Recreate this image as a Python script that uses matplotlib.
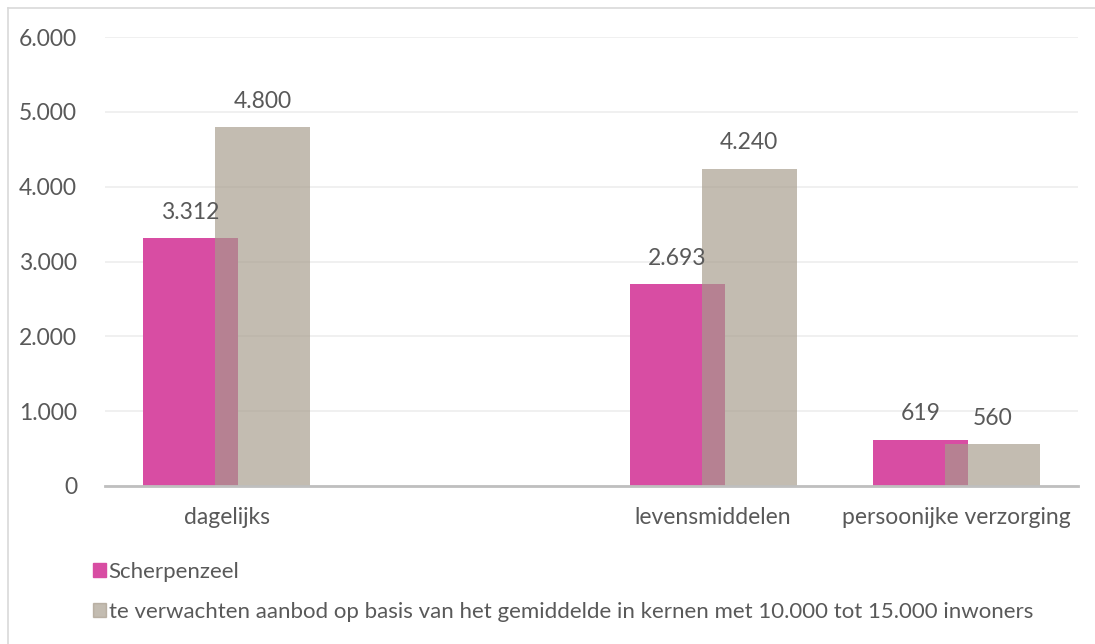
import matplotlib
matplotlib.use("Agg")
import matplotlib.pyplot as plt
from matplotlib.lines import Line2D
import numpy as np

categories = ["dagelijks", "", "levensmiddelen", "persoonijke verzorging"]
scherpenzeel = [3312, None, 2693, 619]
verwacht = [4800, None, 4240, 560]
labels_s = ["3.312", "", "2.693", "619"]
labels_v = ["4.800", "", "4.240", "560"]
yticks = [0, 1000, 2000, 3000, 4000, 5000, 6000]
ytick_labels = ["0", "1.000", "2.000", "3.000", "4.000", "5.000", "6.000"]
series_names = ["Scherpenzeel",
                "te verwachten aanbod op basis van het gemiddelde in kernen met 10.000 tot 15.000 inwoners"]

plt.rcParams['font.family'] = ['Lato', 'DejaVu Sans']
TXT = '#595959'
PINK = '#D84DA3'
GREY = '#A69B8B'
GALPHA = 0.67
FS = 16.5

fig = plt.figure(figsize=(10.95, 6.44), dpi=100)
ax = fig.add_axes([105/1095, 1 - 486/644, (1078-105)/1095, (486-37)/644])

x = np.arange(len(categories))
w = 0.39
off = 0.148
for i in range(len(categories)):
    if scherpenzeel[i] is None:
        continue
    ax.bar(x[i] - off, scherpenzeel[i], w, color=PINK, zorder=2)
    ax.bar(x[i] + off, verwacht[i], w, color=GREY, alpha=GALPHA, zorder=3, linewidth=0)
    ax.annotate(labels_s[i], (x[i] - off, scherpenzeel[i]), xytext=(0, 11),
                textcoords='offset points', ha='center', va='bottom', fontsize=FS, color=TXT, zorder=5)
    ax.annotate(labels_v[i], (x[i] + off, verwacht[i]), xytext=(0, 11),
                textcoords='offset points', ha='center', va='bottom', fontsize=FS, color=TXT, zorder=5)

ax.set_xlim(-0.5, len(categories) - 0.5)
ax.set_ylim(0, 6000)
ax.set_yticks(yticks)
ax.set_yticklabels(ytick_labels)
ax.set_xticks(x)
ax.set_xticklabels(categories)
ax.tick_params(axis='both', length=0, labelsize=FS, labelcolor=TXT)
ax.tick_params(axis='y', pad=20)
ax.tick_params(axis='x', pad=15)
ax.grid(axis='y', color='#EDEDED', linewidth=1.2, zorder=0)
ax.set_axisbelow(True)
for s in ['top', 'right', 'left']:
    ax.spines[s].set_visible(False)
ax.spines['bottom'].set_color('#BFBFBF')
ax.spines['bottom'].set_linewidth(2)
ax.spines['bottom'].set_zorder(4)

# legend
handles = [plt.Rectangle((0, 0), 1, 1, color=PINK),
           plt.Rectangle((0, 0), 1, 1, color=GREY, alpha=GALPHA)]
fig.legend(handles, series_names, loc='upper left', bbox_to_anchor=(93/1095, 1 - 562/644),
           frameon=False, fontsize=16, labelcolor=TXT, handlelength=0.6, handleheight=0.6,
           handletextpad=0.1, labelspacing=0.9, borderaxespad=0, borderpad=0)

# figure border
fig.add_artist(Line2D([8/1095, 1], [1 - 8/644, 1 - 8/644], color='#D9D9D9', linewidth=1.2,
                      transform=fig.transFigure))
fig.add_artist(Line2D([8/1095, 8/1095], [0, 1 - 8/644], color='#D9D9D9', linewidth=1.2,
                      transform=fig.transFigure))

fig.savefig('out.png', dpi=100, facecolor='white')
